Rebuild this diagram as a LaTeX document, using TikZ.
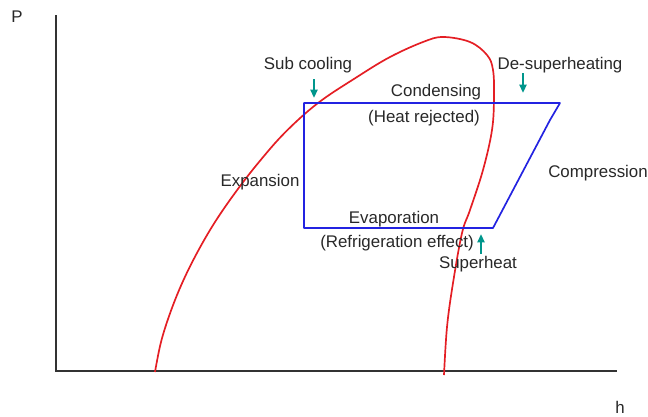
\documentclass[tikz,border=0pt]{standalone}
\usepackage{fontspec}
\setmainfont{Liberation Sans}
\usepackage{tikz}
\usetikzlibrary{arrows.meta}
\definecolor{domered}{RGB}{228,30,36}
\definecolor{cycblue}{RGB}{35,35,225}
\definecolor{tealmark}{RGB}{0,150,140}
\definecolor{txt}{RGB}{40,40,40}

\begin{document}
\begin{tikzpicture}[x=0.025cm, y=-0.025cm,
  lbl/.style={font=\fontsize{12}{14}\selectfont, text=txt, inner sep=0pt},
  pointer/.style={-{Triangle[length=6pt,width=5pt]}, line width=1.6pt, tealmark},
  cyc/.style={cycblue, line width=1.2pt, line join=round},
  dome/.style={domered, line width=1.2pt},
  axis/.style={black!80, line width=1.4pt}
]
\useasboundingbox (0,0) rectangle (648,416);

% axes
\coordinate (o) at (56,371);
\coordinate (ytop) at (56,15);
\coordinate (xend) at (617,371);
\draw[axis] (ytop) -- (o) -- (xend);
\node[lbl] (p) at (17,17) {P};
\node[lbl] (h) at (620,407) {h};

% saturation dome
\draw[dome] plot[smooth, tension=0.6] coordinates {
  (155,372) (161,342) (170.5,312) (182.6,282) (197.5,252) (215,222)
  (235.7,192) (259,162) (285.5,132) (318,103) (357,77) (390,57)
  (423,42) (443,37) (470,42) (487,55) (493,70) (494,97) (492,130)
  (483,170) (470,210) (462,233) (453,283) (447,327) (444,375)};

% cycle
\coordinate (c1) at (304,103);
\coordinate (c2) at (560,103);
\coordinate (c3) at (550,120);
\coordinate (c4) at (493,228);
\coordinate (c5) at (304,228);
\draw[cyc] (c1) -- (c2) -- (c3) -- (c4) -- (c5) -- cycle;

% labels
\node[lbl] (sub)  at (308,65)  {Sub cooling};
\node[lbl] (desh) at (560,65)  {De-superheating};
\node[lbl] (cond) at (436,92)  {Condensing};
\node[lbl] (rej)  at (424,118) {(Heat rejected)};
\node[lbl] (exp)  at (260,182) {Expansion};
\node[lbl] (comp) at (598,173) {Compression};
\node[lbl] (evap) at (394,219) {Evaporation};
\node[lbl] (refr) at (397,243) {(Refrigeration effect)};
\node[lbl] (suph) at (478,264) {Superheat};

% markers
\coordinate (sc1) at (314,79);
\coordinate (sc2) at (314,98);
\coordinate (ds1) at (523,73);
\coordinate (ds2) at (523,93);
\coordinate (sh1) at (481,254);
\coordinate (sh2) at (481,234);
\draw[pointer] (sc1) -- (sc2);
\draw[pointer] (ds1) -- (ds2);
\draw[pointer] (sh1) -- (sh2);
\end{tikzpicture}
\end{document}
